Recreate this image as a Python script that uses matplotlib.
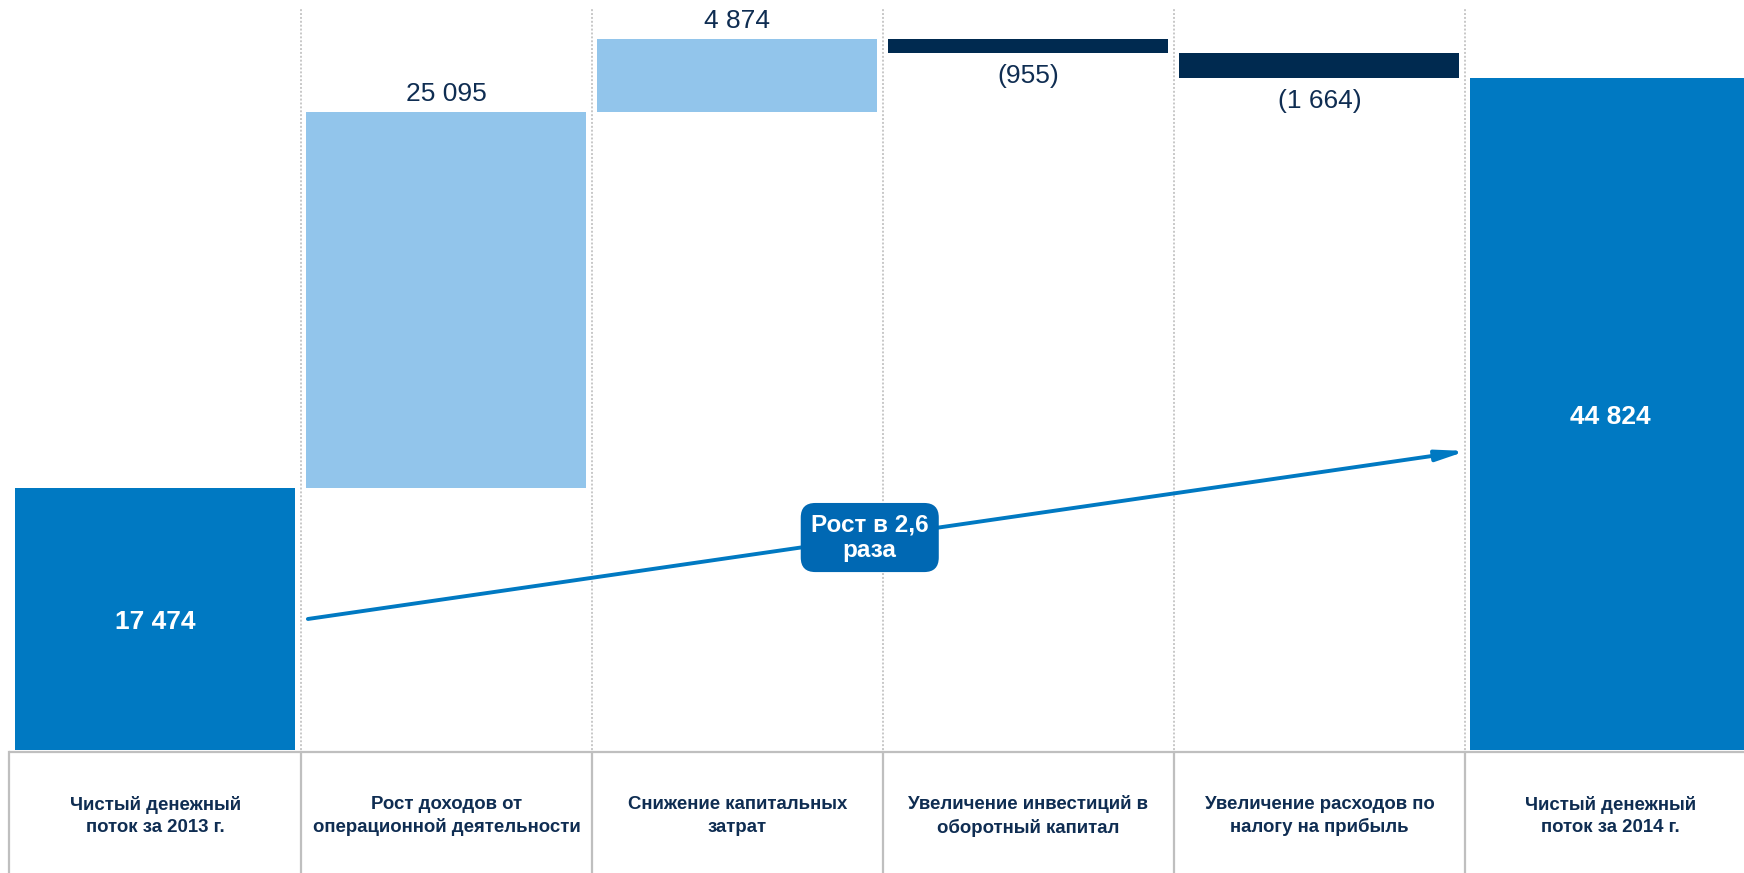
import matplotlib.pyplot as plt

plt.rcParams['font.family'] = ['Liberation Sans', 'DejaVu Sans']

categories = [
    'Чистый денежный\nпоток за 2013 г.',
    'Рост доходов от\nоперационной деятельности',
    'Снижение капитальных\nзатрат',
    'Увеличение инвестиций в\nоборотный капитал',
    'Увеличение расходов по\nналогу на прибыль',
    'Чистый денежный\nпоток за 2014 г.',
]
start_total = 17474
changes = [25095, 4874, -955, -1664]
end_total = 44824
growth_text = 'Рост в 2,6\nраза'

TOTAL_COLOR = '#0079C2'
UP_COLOR = '#92C5EB'
DOWN_COLOR = '#002A50'
TEXT_COLOR = '#0F2D52'
GRID_COLOR = '#C8C8C8'
TABLE_COLOR = '#BFBFBF'


def fmt(v):
    s = f'{abs(v):,}'.replace(',', ' ')
    return f'({s})' if v < 0 else s


fig = plt.figure(figsize=(17.44, 8.73), dpi=100)
ax = fig.add_axes([0, 0, 1, 1])
ax.axis('off')
ax.set_xlim(-0.534, 5.459)
ax.set_ylim(-8203, 50018)

width = 0.962

# totals
for i, v in [(0, start_total), (5, end_total)]:
    ax.bar(i, v, width=width, color=TOTAL_COLOR, zorder=3)
    ax.annotate(fmt(v), (i, v / 2), xytext=(0, -2), textcoords='offset points',
                ha='center', va='center', color='white',
                fontsize=19, fontweight='bold', zorder=5)

# intermediate steps
level = start_total
for k, d in enumerate(changes):
    i = k + 1
    color = UP_COLOR if d > 0 else DOWN_COLOR
    ax.bar(i, d, bottom=level, width=width, color=color, zorder=3)
    top = max(level, level + d)
    bottom = min(level, level + d)
    if d > 0:
        ax.annotate(fmt(d), (i, top), xytext=(0, 13), textcoords='offset points',
                    ha='center', va='center', fontsize=19, color=TEXT_COLOR)
    else:
        ax.annotate(fmt(d), (i, bottom), xytext=(0, -16.5), textcoords='offset points',
                    ha='center', va='center', fontsize=19, color=TEXT_COLOR)
    level += d

# dotted separators above the baseline
for i in range(5):
    ax.plot([i + 0.5, i + 0.5], [0, 49500], color=GRID_COLOR, lw=1.4,
            linestyle=(0, (1, 1)), zorder=1)

# category table under the bars
ax.plot([-0.502, 5.6], [-110, -110], color=TABLE_COLOR, lw=1.6, zorder=4,
        solid_capstyle='butt')
for xv in [-0.502] + [i + 0.5 for i in range(5)]:
    ax.plot([xv, xv], [-110, -8300], color=TABLE_COLOR, lw=1.6, zorder=4)
for i, name in enumerate(categories):
    ax.text(i, -4400, name, ha='center', va='center', fontsize=13.4,
            fontweight='bold', color=TEXT_COLOR, linespacing=1.4)

# growth arrow
x0, y0 = 0.524, start_total / 2
x1, y1 = 4.505, 19940
ax.annotate('', xy=(x1, y1), xytext=(x0, y0),
            arrowprops=dict(arrowstyle='-|>,head_length=1.7,head_width=0.32',
                            color=TOTAL_COLOR, lw=2.8, shrinkA=0, shrinkB=0),
            zorder=6)
t = 0.485
ax.text(x0 + t * (x1 - x0), y0 + t * (y1 - y0), growth_text,
        ha='center', va='center', fontsize=17.5, fontweight='bold', color='white',
        linespacing=1.15, zorder=7,
        bbox=dict(boxstyle='round,pad=0.42,rounding_size=0.6',
                  fc='#0068B3', ec='none'))

fig.savefig('out.png', dpi=100)
